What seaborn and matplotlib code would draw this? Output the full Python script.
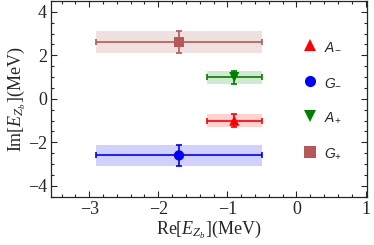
import numpy as np
import pandas as pd
import matplotlib
matplotlib.use("Agg")
import matplotlib.pyplot as plt
import seaborn as sns
from matplotlib.ticker import MultipleLocator

# data
states = ["A-", "G-", "A+", "G+"]
labels = [r"$\mathsf{A_{-}}$", r"$\mathsf{G_{-}}$", r"$\mathsf{A_{+}}$", r"$\mathsf{G_{+}}$"]
re_val = [-0.9, -1.7, -0.9, -1.7]
re_err = [0.4, 1.2, 0.4, 1.2]
im_val = [-1.0, -2.6, 1.0, 2.6]
im_err = [0.3, 0.5, 0.3, 0.5]
colors = ["#ff0000", "#0000ff", "#008000", "#b55858"]
markers = ["^", "o", "v", "s"]

sns.set_style("ticks")
plt.rcParams["font.family"] = ["Liberation Serif", "DejaVu Serif"]
plt.rcParams["mathtext.fontset"] = "custom"
plt.rcParams["mathtext.rm"] = "Liberation Serif"
plt.rcParams["mathtext.it"] = "Liberation Serif:italic"
plt.rcParams["mathtext.sf"] = "Liberation Sans:italic"

df = pd.DataFrame({"state": states, "re": re_val, "im": im_val})

fig, ax = plt.subplots(figsize=(3.74, 2.45), dpi=100)
fig.subplots_adjust(left=0.137, right=0.981, top=0.996, bottom=0.197)

for i in range(len(states)):
    ax.fill_between([re_val[i] - re_err[i], re_val[i] + re_err[i]],
                    im_val[i] - im_err[i], im_val[i] + im_err[i],
                    color=colors[i], alpha=0.18, lw=0)
    ax.errorbar(re_val[i], im_val[i], xerr=re_err[i], yerr=im_err[i],
                fmt="none", ecolor=colors[i], elinewidth=1.2, capsize=2, capthick=1.2)

sns.scatterplot(data=df, x="re", y="im", hue="state", style="state",
                hue_order=states, style_order=states,
                palette=dict(zip(states, colors)), markers=dict(zip(states, markers)),
                s=55, linewidth=0, ax=ax, zorder=5)

handles, _ = ax.get_legend_handles_labels()
for h in handles:
    h.set_markersize(8)
ax.legend(handles, labels, loc="center left", bbox_to_anchor=(0.735, 0.495),
          frameon=False, labelspacing=1.55, handletextpad=0.05,
          prop={"family": "Liberation Sans", "style": "italic", "size": 10})

ax.set_xlim(-3.55, 1.02)
ax.set_ylim(-4.5, 4.5)
ax.xaxis.set_major_locator(MultipleLocator(1))
ax.xaxis.set_minor_locator(MultipleLocator(0.2))
ax.yaxis.set_major_locator(MultipleLocator(2))
ax.yaxis.set_minor_locator(MultipleLocator(0.5))
ax.tick_params(which="both", direction="in", top=True, right=True, labelsize=13, width=0.8)
ax.tick_params(which="major", length=4, pad=3)
ax.tick_params(which="minor", length=2)
for sp in ax.spines.values():
    sp.set_linewidth(0.9)
plt.setp(ax.get_xticklabels() + ax.get_yticklabels(), fontfamily="Liberation Serif")

ax.set_xlabel(r"Re[$E_{Z_b}$](MeV)", fontsize=13, labelpad=1)
ax.set_ylabel(r"Im[$E_{Z_b}$](MeV)", fontsize=13, labelpad=0)

plt.savefig("out.png", dpi=100)
